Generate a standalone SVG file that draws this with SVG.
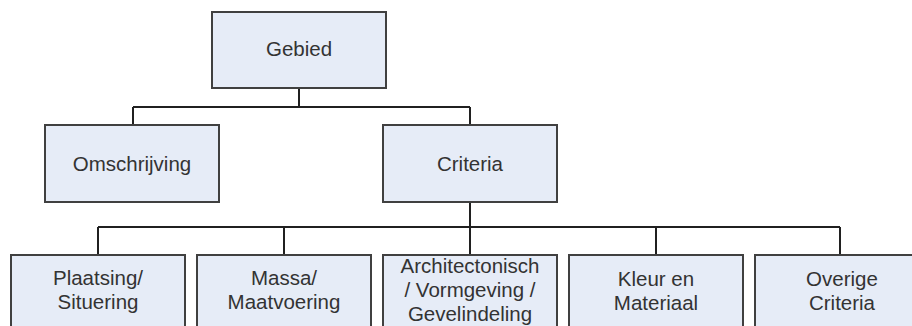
<svg xmlns="http://www.w3.org/2000/svg" width="912" height="326" viewBox="0 0 912 326">
<style>
.box{fill:#E6ECF7;stroke:#404040;stroke-width:2}
.lbl{font-family:"Liberation Sans",Arial,sans-serif;font-size:20.5px;fill:#333333;text-anchor:middle}
.con{fill:none;stroke:#202020;stroke-width:2}
</style>
<rect width="912" height="326" fill="#ffffff"/>
<g id="connectors">
<path class="con" d="M299,88 V107 M133,107 H470 M133,107 V125 M470,107 V125"/>
<path class="con" d="M470,202 V255 M98,227 H840 M98,227 V255 M284,227 V255 M656,227 V255 M840,227 V255"/>
</g>
<g id="gebied">
<rect class="box" x="212" y="12" width="174" height="76"/>
<text class="lbl" x="299" y="56">Gebied</text>
</g>
<g id="omschrijving">
<rect class="box" x="45" y="125" width="174" height="77"/>
<text class="lbl" x="132" y="171">Omschrijving</text>
</g>
<g id="criteria">
<rect class="box" x="383" y="125" width="174" height="77"/>
<text class="lbl" x="470" y="171">Criteria</text>
</g>
<g id="plaatsing">
<rect class="box" x="11" y="255" width="174" height="90"/>
<text class="lbl" x="98" y="285">Plaatsing/</text>
<text class="lbl" x="98" y="309">Situering</text>
</g>
<g id="massa">
<rect class="box" x="197" y="255" width="174" height="90"/>
<text class="lbl" x="284" y="285">Massa/</text>
<text class="lbl" x="284" y="309">Maatvoering</text>
</g>
<g id="architectonisch">
<rect class="box" x="383" y="255" width="174" height="90"/>
<text class="lbl" x="470" y="273">Architectonisch</text>
<text class="lbl" x="470" y="297">/ Vormgeving /</text>
<text class="lbl" x="470" y="321">Gevelindeling</text>
</g>
<g id="kleur">
<rect class="box" x="569" y="255" width="174" height="90"/>
<text class="lbl" x="656" y="286">Kleur en</text>
<text class="lbl" x="656" y="310">Materiaal</text>
</g>
<g id="overige">
<rect class="box" x="755" y="255" width="174" height="90"/>
<text class="lbl" x="842" y="286">Overige</text>
<text class="lbl" x="842" y="310">Criteria</text>
</g>
</svg>
